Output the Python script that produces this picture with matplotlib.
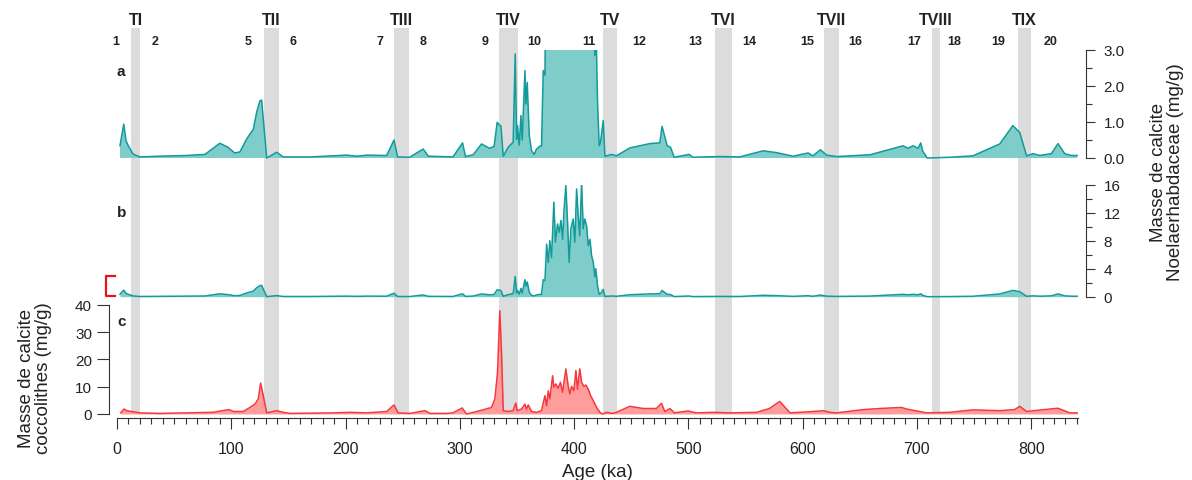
import numpy as np
import matplotlib
matplotlib.use("Agg")
import matplotlib.pyplot as plt
from matplotlib.ticker import MultipleLocator, FormatStrFormatter

plt.rcParams['font.family'] = ['Liberation Sans', 'DejaVu Sans']

# Noelaerhabdaceae calcite mass (mg/g), panels a (clipped at 3) and b
noel_age = [2.6, 5.9, 7.9, 9.9, 14, 20, 37.6, 61, 77, 90, 97, 103, 107.6, 113.5, 119.3,
            122.2, 125.1, 126.6, 131, 139.7, 145.5, 170, 201, 210, 218.5, 236, 242.4,
            245.5, 256, 268, 272.4, 294, 302.4, 305, 311.7, 319, 326, 330, 332.7, 336,
            338, 342.4, 346.7, 348.5, 349.7, 350.5, 352, 353.5, 354.6, 357, 357.8, 359,
            360.8, 362.8, 365, 367, 370, 371.5, 373, 374.5, 376, 377.4, 378.8, 380.3,
            382.3, 383.7, 385.5, 387, 388.5, 390, 391, 392.8, 394.3, 395.7, 397.2, 399.2,
            400.7, 402.2, 403.6, 405, 406.6, 408, 409.4, 411, 412.4, 413.9, 415.3, 416.8,
            418.2, 419, 420.5, 422, 423.2, 425.5, 427, 432.8, 437, 448.8, 466.3, 475,
            477, 481.5, 484.4, 487.6, 500.7, 504, 527.5, 545, 565.5, 577, 591.7, 604.8,
            609, 615.6, 621, 629.7, 641, 659, 688, 692, 696.7, 701, 703.4, 705, 709,
            728.8, 749, 772.5, 784, 790, 796, 801.7, 807.5, 817.7, 823.5, 829.4, 835.3,
            840.3]
noel_val = [0.34, 0.94, 0.48, 0.34, 0.11, 0.03, 0.05, 0.07, 0.1, 0.41, 0.3, 0.14, 0.17,
            0.53, 0.8, 1.27, 1.59, 1.61, 0.0, 0.16, 0.03, 0.03, 0.08, 0.05, 0.08, 0.07,
            0.5, 0.03, 0.02, 0.25, 0.05, 0.03, 0.42, 0.04, 0.09, 0.39, 0.27, 0.32, 0.99,
            0.88, 0.05, 0.3, 0.44, 2.89, 0.52, 0.9, 0.36, 1.18, 0.5, 2.43, 1.5, 2.1, 0.62,
            0.2, 0.1, 0.24, 0.33, 0.33, 2.43, 2.3, 7.5, 4.9, 8.0, 5.6, 13.5, 7.8, 10.4,
            9.2, 10.9, 8.2, 11.8, 15.9, 10.6, 4.9, 9.7, 11.1, 7.8, 15.4, 11.6, 8.7, 16.3,
            9.7, 11.1, 10.1, 7.3, 8.2, 5.9, 4.9, 2.85, 4.0, 1.6, 0.34, 0.45, 1.04, 0.05,
            0.1, 0.06, 0.28, 0.4, 0.42, 0.88, 0.34, 0.3, 0.02, 0.1, 0.02, 0.04, 0.03,
            0.2, 0.15, 0.05, 0.14, 0.06, 0.23, 0.08, 0.04, 0.06, 0.09, 0.34, 0.27, 0.34,
            0.27, 0.42, 0.2, 0.0, 0.02, 0.06, 0.39, 0.9, 0.71, 0.06, 0.12, 0.07, 0.12,
            0.4, 0.12, 0.07, 0.07]

# coccolith calcite mass (mg/g), panel c
cocc_age = [3.2, 6.1, 8.5, 11.4, 20, 37.6, 61, 84, 98, 102, 110.5, 116.4, 120.7, 123.6,
            125.7, 128, 131, 139.7, 145.5, 151.4, 189, 204, 218.5, 236, 242.4, 246, 256,
            269.5, 274, 288.5, 294, 302, 306, 317.6, 327.8, 330.7, 333, 335, 336.6, 338,
            342.4, 346.7, 349, 350.2, 354, 357, 358.4, 359.9, 362.8, 367.2, 371.5, 374.5,
            376, 377.4, 378.8, 381.2, 382.3, 384, 386, 388.1, 389.9, 392.8, 394.8, 396.3,
            397.8, 399.8, 401.6, 403, 405, 406.6, 408.6, 410.3, 412.4, 414.5, 416.8,
            419.7, 422.6, 424.9, 428.4, 434, 437, 448.8, 460.5, 472, 476.5, 479.4, 483.8,
            488, 499.8, 507, 521.7, 536, 559.7, 571, 580, 589, 609, 618, 624, 629.7, 653,
            667.5, 686.5, 691, 700, 708.4, 728.8, 749, 772.5, 785.6, 790, 796, 804.6,
            823.5, 833.8, 840.7]
cocc_val = [0.4, 1.8, 1.2, 1.0, 0.4, 0.2, 0.4, 0.6, 1.6, 0.9, 0.9, 2.4, 3.6, 5.5, 11.3,
            6.7, 0.4, 1.2, 0.6, 0.2, 0.4, 0.6, 0.4, 0.9, 3.3, 0.4, 0.2, 1.2, 0.2, 0.2, 0.4,
            2.2, 0.0, 1.2, 2.4, 5.5, 15.2, 37.8, 21.3, 1.2, 0.9, 1.2, 4.0, 1.2, 1.8, 3.6,
            1.8, 3.3, 0.9, 0.6, 1.2, 6.7, 3.0, 8.5, 5.5, 14.0, 9.8, 11.0, 9.4, 11.6, 7.9,
            16.5, 10.4, 7.3, 10.1, 8.5, 15.9, 9.1, 16.5, 11.6, 10.1, 10.6, 9.1, 6.7, 4.9,
            2.4, 0.6, 0.0, 0.6, 0.2, 0.6, 2.8, 2.0, 2.0, 3.9, 0.9, 2.0, 0.4, 1.1, 0.4, 0.6,
            0.4, 0.6, 2.0, 4.6, 0.4, 0.9, 1.2, 0.6, 0.4, 1.6, 2.0, 2.4, 1.8, 1.1, 0.4, 0.6,
            1.5, 1.2, 1.6, 2.8, 0.9, 1.3, 2.1, 0.4, 0.4]

# terminations (grey bands) and marine isotope stages
term_names = ['TI', 'TII', 'TIII', 'TIV', 'TV', 'TVI', 'TVII', 'TVIII', 'TIX']
term_start = [12, 128.3, 242.6, 334.2, 425.5, 523.2, 618.3, 712.8, 788.6]
term_end = [20.5, 141.7, 255.2, 350.6, 437.7, 537.8, 631.7, 720.6, 799.7]
mis_names = ['1', '2', '5', '6', '7', '8', '9', '10', '11', '12', '13', '14', '15',
             '16', '17', '18', '19', '20']
mis_pos = [-1.3, 33.1, 114.7, 154.3, 229.8, 267.7, 322, 365, 413, 457, 506.4, 553, 604,
           646.4, 697.4, 732.4, 771, 817]

W, H = 1192, 481
TEAL, TEAL_FILL = '#139a9a', '#7ecdcb'
RED, RED_FILL = '#f5383d', '#ff9d9d'
TXT = '#222222'
XMAX = 841

fig = plt.figure(figsize=(W / 100, H / 100), dpi=100)


def px_axes(top, bottom):
    # axes from pixel rows top..bottom, x columns 117..1078
    return fig.add_axes([117 / W, 1 - bottom / H, (1078 - 117) / W, (bottom - top) / H])


# background with the grey bands
bg = px_axes(29, 415)
bg.set_xlim(0, XMAX)
bg.set_ylim(0, 1)
bg.axis('off')
for s, e in zip(term_start, term_end):
    bg.axvspan(s, e, color='#dcdcdc', lw=0, zorder=0)
for name, s, e in zip(term_names, term_start, term_end):
    bg.text((s + e) / 2, 1.023, name, ha='center', va='center', fontsize=11.5,
            fontweight='bold', color=TXT, clip_on=False)
for name, p in zip(mis_names, mis_pos):
    bg.text(p, 0.966, name, ha='center', va='center', fontsize=9,
            fontweight='bold', color=TXT, clip_on=False)

ax_a = px_axes(51, 160.8)
ax_b = px_axes(185.7, 299.8)
ax_c = px_axes(305.7, 415.8)

for ax in (ax_a, ax_b, ax_c):
    ax.set_xlim(0, XMAX)
    ax.patch.set_alpha(0)
    for sp in ax.spines.values():
        sp.set_visible(False)
    ax.tick_params(colors='#333333', labelcolor=TXT, labelsize=11, width=0.8)

# panel a
ax_a.fill_between(noel_age, 0, noel_val, color=TEAL_FILL, lw=0)
ax_a.plot(noel_age, noel_val, color=TEAL, lw=1.1)
ax_a.set_ylim(-0.05, 3.0)
# panel b
ax_b.fill_between(noel_age, 0, noel_val, color=TEAL_FILL, lw=0)
ax_b.plot(noel_age, noel_val, color=TEAL, lw=1.1)
ax_b.set_ylim(-0.3, 16)
ax_b.plot([-1.8, -9.6, -9.6, -1.8], [2.9, 2.9, 0.15, 0.15], color='#e8141c', lw=1.6,
          clip_on=False)
# panel c
ax_c.fill_between(cocc_age, 0, cocc_val, color=RED_FILL, lw=0)
ax_c.plot(cocc_age, cocc_val, color=RED, lw=1.1)
ax_c.set_ylim(-0.3, 40)

for ax, top, step, minor, fmt in ((ax_a, 3, 1, 0.5, '%.1f'), (ax_b, 16, 4, 2, '%d')):
    ax.spines['right'].set_visible(True)
    ax.spines['right'].set_position(('outward', 5.8))
    ax.spines['right'].set_bounds(0, top)
    ax.spines['right'].set_color('#333333')
    ax.yaxis.tick_right()
    ax.yaxis.set_major_locator(MultipleLocator(step))
    ax.yaxis.set_minor_locator(MultipleLocator(minor))
    ax.yaxis.set_major_formatter(FormatStrFormatter(fmt))
    ax.tick_params(axis='y', which='major', length=6.5, pad=6)
    ax.tick_params(axis='y', which='minor', length=4, width=0.8, colors='#333333')
    ax.set_xticks([])

ax_c.spines['left'].set_visible(True)
ax_c.spines['left'].set_position(('outward', 5.5))
ax_c.spines['left'].set_bounds(0, 40)
ax_c.spines['left'].set_color('#333333')
ax_c.yaxis.set_major_locator(MultipleLocator(10))
ax_c.tick_params(axis='y', length=8.5, pad=4)
ax_c.spines['bottom'].set_visible(True)
ax_c.spines['bottom'].set_position(('outward', 2.5))
ax_c.spines['bottom'].set_color('#333333')
ax_c.xaxis.set_major_locator(MultipleLocator(100))
ax_c.xaxis.set_minor_locator(MultipleLocator(10))
ax_c.tick_params(axis='x', which='major', length=7.7, pad=9, labelsize=11.5)
ax_c.tick_params(axis='x', which='minor', length=4, width=0.8, colors='#333333')
ax_c.set_xlabel('Age (ka)', fontsize=13.5, color=TXT, labelpad=5)

ax_a.text(3.5, 2.42, 'a', ha='center', va='center', fontsize=11, fontweight='bold', color=TXT)
ax_b.text(4.0, 12.1, 'b', ha='center', va='center', fontsize=11, fontweight='bold', color=TXT)
ax_c.text(4.0, 33.9, 'c', ha='center', va='center', fontsize=11, fontweight='bold', color=TXT)

fig.text(35 / W, 1 - 378 / H, 'Masse de calcite\ncoccolithes (mg/g)', rotation=90,
         ha='center', va='center', fontsize=13.5, color=TXT, linespacing=1.0)
fig.text(1167 / W, 1 - 172 / H, 'Masse de calcite\nNoelaerhabdaceae (mg/g)', rotation=90,
         ha='center', va='center', fontsize=13.5, color=TXT, linespacing=1.0)

fig.savefig('out.png', dpi=100)
